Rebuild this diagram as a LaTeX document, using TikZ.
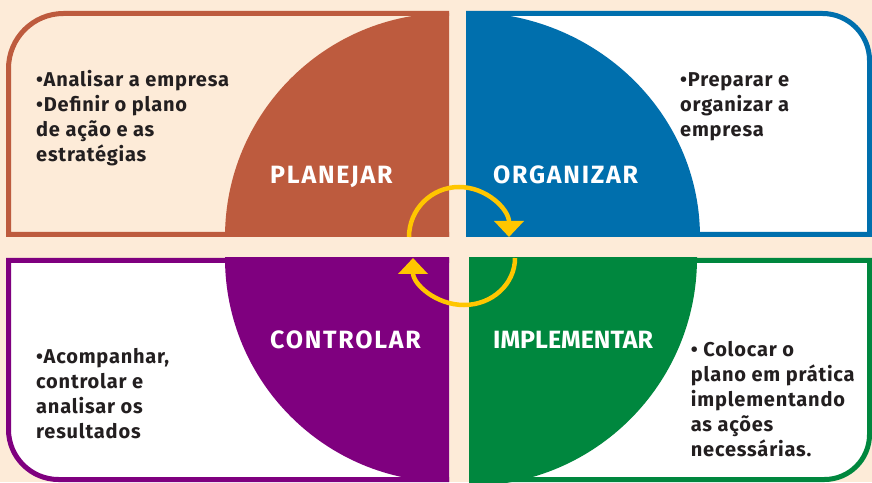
\documentclass[tikz,border=0pt]{standalone}
\usepackage{fontspec}
\setmainfont{Fira Sans}
\newfontfamily\headfont{Fira Sans}[LetterSpace=7]
\newfontfamily\notefont{Fira Sans}[LetterSpace=4]
\usetikzlibrary{arrows.meta}
\definecolor{cpeach}{HTML}{FDEBD8}
\definecolor{cbrown}{HTML}{BD5B3E}
\definecolor{cblue}{HTML}{006FAD}
\definecolor{cpurple}{HTML}{7F007F}
\definecolor{cgreen}{HTML}{00873E}
\definecolor{cyellow}{HTML}{FFC600}
\definecolor{ctext}{HTML}{231F20}
\tikzset{
  every picture/.style={x=1pt, y=1pt},
  panel/.style={draw=#1, fill=white, line width=5pt},
  heading/.style={font=\headfont\fontsize{25}{30}\selectfont\bfseries, text=white, anchor=base west, inner sep=0pt},
  note/.style={font=\notefont\fontsize{20}{25}\selectfont\bfseries, text=ctext, anchor=base west, align=left, inner sep=0pt},
  turn/.style={-{Triangle[width=29pt, length=16pt]}, draw=cyellow, line width=4.5pt},
}

\begin{document}
\begin{tikzpicture}
  \useasboundingbox (0,0) rectangle (872,482);
  \fill[cpeach] (0,0) rectangle (872,482);
  \clip (0,0) rectangle (872,482);

  % the four panels
  \filldraw[panel=cbrown, fill=cpeach] (449,247.5) -- (8.5,247.5) -- (8.5,413.5)
    arc[start angle=180, end angle=90, radius=55] -- (449,468.5);
  \filldraw[panel=cblue] (466,247.5) -- (869.5,247.5) -- (869.5,421.5)
    arc[start angle=0, end angle=90, radius=47] -- (466,468.5);
  \filldraw[panel=cpurple] (449,221.5) -- (8.5,221.5) -- (8.5,52.5)
    arc[start angle=180, end angle=270, radius=50] -- (449,2.5);
  \filldraw[panel=cgreen] (469,221.5) -- (869.5,221.5) -- (869.5,47.5)
    arc[start angle=0, end angle=-90, radius=45] -- (469,2.5);

  % quarter discs
  \begin{scope}
    \clip (6,245) rectangle (449,471);
    \fill[cbrown] (449,245) circle[radius=224];
  \end{scope}
  \begin{scope}
    \clip (466,245) rectangle (872,471);
    \fill[cblue] (466,245) ellipse[x radius=234, y radius=225];
  \end{scope}
  \begin{scope}
    \clip (6,0) rectangle (449,224);
    \fill[cpurple] (449,224) circle[radius=224];
  \end{scope}
  \begin{scope}
    \clip (469,0) rectangle (872,224);
    \fill[cgreen] (469,224) circle[radius=228];
  \end{scope}

  \node[heading] (planejar) at (270,298) {PLANEJAR};
  \node[heading] (organizar) at (493,298) {ORGANIZAR};
  \node[heading] (controlar) at (270,133) {CONTROLAR};
  \node[heading] (implementar) at (493,133) {\rmfamily\bfseries IMPLEMENTAR};

  % multi-line notes sit on the baseline of their last line
  \node[note] (planT) at (36,320) {•Analisar a empresa\\•Definir o plano\\de ação e as\\estratégias};
  \node[note] (orgT) at (680,345) {•Preparar e\\organizar a\\empresa};
  \node[note] (ctrlT) at (36,44) {•Acompanhar,\\controlar e\\analisar os\\resultados};
  \node[note] (implT) at (690.7,25.3) {• Colocar o\\plano em prática\\implementando\\as ações\\necessárias.};

  % cycle arrows
  \coordinate (upper) at (409,245);
  \coordinate (lower) at (515,224);
  \draw[turn] (upper) arc[start angle=180, end angle=0, radius=50];
  \draw[turn] (lower) arc[start angle=0, end angle=-180, x radius=51, y radius=47];
\end{tikzpicture}
\end{document}
